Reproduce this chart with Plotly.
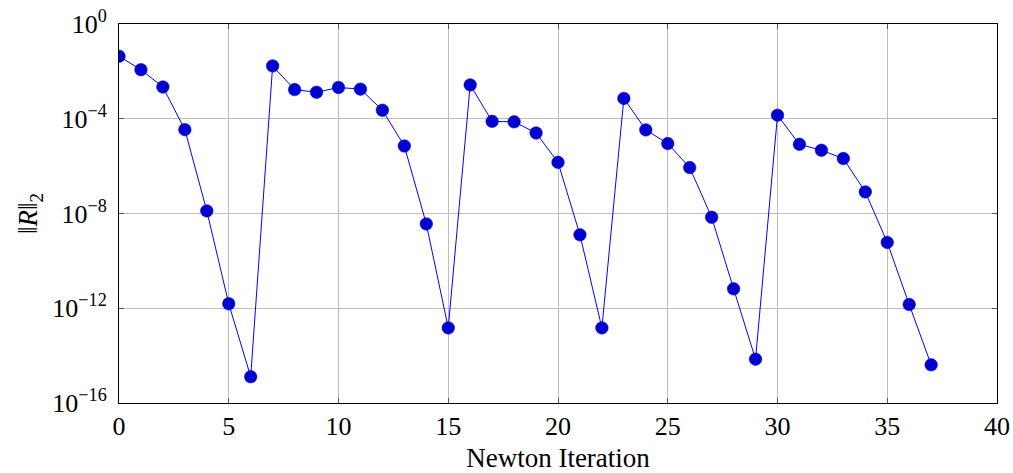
import plotly.graph_objects as go

iterations = list(range(38))
log10_residual = [-1.36, -1.93, -2.66, -4.46, -7.89, -11.81, -14.89,
                  -1.77, -2.77, -2.88, -2.68, -2.75, -3.64, -5.15, -8.44, -12.83,
                  -2.57, -4.11, -4.13, -4.60, -5.84, -8.90, -12.83,
                  -3.14, -4.47, -5.05, -6.06, -8.16, -11.18, -14.15,
                  -3.85, -5.08, -5.33, -5.68, -7.09, -9.22, -11.84, -14.39]
residual = [10 ** v for v in log10_residual]

x_ticks = [0, 5, 10, 15, 20, 25, 30, 35, 40]
y_tick_exps = [-16, -12, -8, -4, 0]
y_tick_vals = [10.0 ** e for e in y_tick_exps]
y_tick_text = ["10<sup>" + str(e).replace("-", "−") + "</sup>" for e in y_tick_exps]

FONT = "Liberation Serif, DejaVu Serif, serif"

fig = go.Figure()
fig.add_trace(go.Scatter(
    x=iterations, y=residual, mode="lines+markers",
    line=dict(color="#0000ff", width=1),
    marker=dict(color="#0000cc", size=12.5, line=dict(color="#0000ff", width=0.6)),
    showlegend=False,
))

fig.update_layout(
    width=1013, height=473,
    margin=dict(l=119, r=16, t=24, b=70),
    paper_bgcolor="white", plot_bgcolor="white",
    font=dict(family=FONT, size=26, color="black"),
)
fig.update_xaxes(
    range=[0, 40], tickvals=x_ticks, ticktext=[str(t) for t in x_ticks],
    showgrid=True, gridcolor="#bdbdbd", gridwidth=1,
    showline=True, linecolor="black", linewidth=1, mirror="ticks",
    ticks="inside", ticklen=5, tickcolor="#555555",
    zeroline=False, automargin=False,
    tickfont=dict(family=FONT, size=26),
    title=dict(text="Newton Iteration", font=dict(family=FONT, size=27), standoff=12),
)
fig.update_yaxes(
    type="log", range=[-16, 0], tickvals=y_tick_vals, ticktext=y_tick_text,
    showgrid=True, gridcolor="#bdbdbd", gridwidth=1,
    showline=True, linecolor="black", linewidth=1, mirror="ticks",
    ticks="inside", ticklen=5, tickcolor="#555555",
    zeroline=False, automargin=False, ticklabelstandoff=6,
    tickfont=dict(family=FONT, size=26),
    title=dict(text="‖<i>R</i>‖<sub>2</sub>", font=dict(family=FONT, size=27), standoff=6),
)

fig.write_html("out.html", config={"displayModeBar": False},
               post_script="document.body.style.margin='0';")
